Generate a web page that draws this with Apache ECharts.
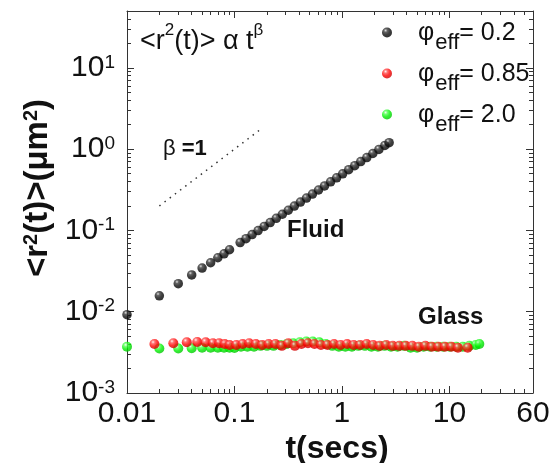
<!DOCTYPE html>
<html>
<head>
<meta charset="utf-8">
<script src="https://cdn.jsdelivr.net/npm/echarts@6/dist/echarts.min.js"></script>
<style>
html,body{margin:0;padding:0;background:#fff;}
#chart{width:554px;height:463px;}
</style>
</head>
<body>
<div id="chart"></div>
<script>
// ---- data ----
const blackT = [0.01,0.02,0.03,0.04,0.05,0.06,0.07,0.08,0.09,0.113,0.128,0.146,0.166,0.189,0.215,0.245,0.279,0.317,0.361,0.411,0.468,0.532,0.606,0.689,0.785,0.893,1.016,1.157,1.316,1.498,1.705,1.94,2.21,2.51,2.75];
const blackMSD = [0.0092,0.0157,0.0221,0.0283,0.0344,0.040,0.0461,0.0516,0.0578,0.0708,0.079,0.089,0.0995,0.112,0.125,0.141,0.158,0.177,0.199,0.223,0.250,0.280,0.314,0.352,0.396,0.444,0.497,0.558,0.626,0.702,0.788,0.883,0.991,1.11,1.20];

const redT = [0.018,0.027,0.036,0.045,0.054,0.063,0.072,0.081,0.09,0.104,0.119,0.137,0.158,0.181,0.208,0.24,0.276,0.317,0.365,0.42,0.483,0.555,0.638,0.734,0.844,0.971,1.117,1.284,1.477,1.698,1.953,2.246,2.583,2.97,3.416,3.928,4.518,5.195,5.975,6.871,7.9,9.09,10.45,12.02,14.8];
const redMSD = [0.0040,0.0041,0.0042,0.00425,0.0042,0.0041,0.0041,0.0040,0.0039,0.0039,0.0040,0.0041,0.0040,0.0039,0.0040,0.0040,0.0038,0.0041,0.0038,0.0040,0.0041,0.0040,0.0039,0.0039,0.0040,0.0039,0.0040,0.0039,0.0039,0.0040,0.0039,0.0038,0.0039,0.0038,0.0038,0.0038,0.0038,0.0037,0.0038,0.0037,0.0037,0.0037,0.0037,0.0036,0.0036];

const greenT = [0.01,0.02,0.03,0.04,0.05,0.06,0.07,0.08,0.09,0.1,0.115,0.132,0.152,0.175,0.201,0.231,0.266,0.306,0.352,0.405,0.465,0.535,0.615,0.708,0.814,0.936,1.076,1.238,1.423,1.637,1.882,2.165,2.49,2.863,3.293,3.786,4.354,5.007,5.758,6.622,7.616,8.758,10.07,11.58,13.32,15.32,17.6,19.0];
const greenMSD = [0.0037,0.00352,0.00352,0.00355,0.0036,0.0036,0.0036,0.0036,0.0036,0.00358,0.0037,0.0037,0.0037,0.0038,0.0038,0.0038,0.0039,0.0040,0.0041,0.0042,0.0043,0.0043,0.0042,0.0040,0.0038,0.0037,0.0037,0.0037,0.0038,0.0038,0.0037,0.0037,0.0038,0.0037,0.0037,0.0038,0.0036,0.0036,0.0037,0.0037,0.0037,0.0037,0.0037,0.0037,0.0037,0.0038,0.0039,0.0040];

const betaT = [0.02, 0.18];
const betaMSD = [0.2, 1.8];

const phiLabels = ['0.2', '0.85', '2.0'];
const xMajor = [0.01, 0.1, 1, 10];
const xLabelValues = [0.01, 0.1, 1, 10, 60];
const xMinor = [0.02,0.03,0.04,0.05,0.06,0.07,0.08,0.09,0.2,0.3,0.4,0.5,0.6,0.7,0.8,0.9,2,3,4,5,6,7,8,9,20,30,40,50];
const yMajor = [0.001, 0.01, 0.1, 1, 10];
const yExponents = ['-3', '-2', '-1', '0', '1'];
const yMinor = [0.002,0.003,0.004,0.005,0.006,0.007,0.008,0.009,0.02,0.03,0.04,0.05,0.06,0.07,0.08,0.09,0.2,0.3,0.4,0.5,0.6,0.7,0.8,0.9,2,3,4,5,6,7,8,9,20,30,40];

// ---- chart ----
const FONT = 'Liberation Sans, Arial, sans-serif';
const INK = '#111';
const FRAME = '#333';

function zip(a, b) { return a.map((v, i) => [v, b[i]]); }
function sphere(c0, c1, c2, c3) {
  return { type: 'radial', x: 0.36, y: 0.3, r: 0.72,
    colorStops: [{ offset: 0, color: c0 }, { offset: 0.25, color: c1 }, { offset: 0.6, color: c2 }, { offset: 1, color: c3 }] };
}

function xAx(pos, ticks, len, lineShow, labels) {
  return {
    type: 'log', logBase: 10, min: 0.01, max: 60, position: pos,
    axisLine: { show: lineShow, onZero: false, lineStyle: { color: FRAME, width: 1 } },
    axisTick: { show: true, inside: true, length: len, customValues: ticks, lineStyle: { color: FRAME, width: 1 } },
    axisLabel: labels ? {
      show: true, customValues: xLabelValues, margin: 6,
      fontFamily: FONT, fontSize: 30, color: INK, lineHeight: 30,
      formatter: v => String(+v.toPrecision(6))
    } : { show: false },
    splitLine: { show: false }, minorTick: { show: false }, minorSplitLine: { show: false }
  };
}
function yAx(pos, ticks, len, lineShow, labels) {
  return {
    type: 'log', logBase: 10, min: 0.001, max: 50, position: pos,
    axisLine: { show: lineShow, onZero: false, lineStyle: { color: FRAME, width: 1 } },
    axisTick: { show: true, inside: true, length: len, customValues: ticks, lineStyle: { color: FRAME, width: 1 } },
    axisLabel: labels ? {
      show: true, customValues: yMajor, margin: 12,
      formatter: v => {
        const i = yMajor.findIndex(m => Math.abs(Math.log10(m) - Math.log10(v)) < 1e-6);
        return '{b|10}{s|' + yExponents[i] + '}';
      },
      rich: {
        b: { fontFamily: FONT, fontSize: 30, lineHeight: 30, color: INK },
        s: { fontFamily: FONT, fontSize: 19, lineHeight: 19, color: INK, verticalAlign: 'top' }
      }
    } : { show: false },
    splitLine: { show: false }, minorTick: { show: false }, minorSplitLine: { show: false }
  };
}

const xAxes = [
  xAx('bottom', xMajor, 7, true, true),
  xAx('bottom', xMinor, 4, false, false),
  xAx('top', xMajor, 7, true, false),
  xAx('top', xMinor, 4, false, false)
];
Object.assign(xAxes[0], {
  name: 't(secs)', nameLocation: 'middle', nameGap: 40, nameMoveOverlap: false,
  nameTextStyle: { fontFamily: FONT, fontSize: 32, fontWeight: 'bold', color: INK, padding: [0, 0, 0, 14] }
});
const yAxes = [
  yAx('left', yMajor, 7, true, true),
  yAx('left', yMinor, 4, false, false),
  yAx('right', yMajor, 7, true, false),
  yAx('right', yMinor, 4, false, false)
];
Object.assign(yAxes[0], {
  name: '{a|<r}{s|2}{a|(t)>(μm}{s|2}{a|)}', nameLocation: 'middle', nameGap: 73, nameMoveOverlap: false,
  nameTextStyle: {
    padding: [0, 0, 0, 28],
    rich: {
      a: { fontFamily: FONT, fontSize: 33, fontWeight: 'bold', lineHeight: 33, color: INK },
      s: { fontFamily: FONT, fontSize: 20, fontWeight: 'bold', lineHeight: 20, color: INK, verticalAlign: 'top' }
    }
  }
});

const legendNames = phiLabels.map(p => 'phi_' + p);

const option = {
  animation: false,
  backgroundColor: '#fff',
  grid: { left: 127, right: 21, top: 11, bottom: 70, containLabel: false, outerBoundsMode: 'none' },
  xAxis: xAxes,
  yAxis: yAxes,
  legend: {
    orient: 'vertical', left: 382, top: 20, padding: 0, itemGap: 7,
    itemWidth: 10, itemHeight: 10, selectedMode: false,
    data: legendNames,
    formatter: name => {
      const p = name.slice(4);
      return '{f|φ}{s|eff}{a|= ' + p + '}';
    },
    textStyle: {
      rich: {
        f: { fontFamily: FONT, fontSize: 25, lineHeight: 25, color: INK, verticalAlign: 'top', padding: [1, 1, 0, 21] },
        a: { fontFamily: FONT, fontSize: 25, lineHeight: 25, color: INK, verticalAlign: 'top', padding: [1, 0, 0, 0] },
        s: { fontFamily: FONT, fontSize: 22, lineHeight: 22, color: INK, verticalAlign: 'top', padding: [12, 0, 0, 0] }
      }
    }
  },
  graphic: [
    { type: 'text', left: 140, top: 22, style: {
      text: '{a|<r}{s|2}{a|(t)> α t}{s|β}', fill: INK,
      rich: {
        a: { fontFamily: FONT, fontSize: 27, lineHeight: 27, fill: INK, verticalAlign: 'top', padding: [6, 0, 0, 0] },
        s: { fontFamily: FONT, fontSize: 17, lineHeight: 17, fill: INK, verticalAlign: 'top' }
      } } },
    { type: 'text', left: 163, top: 138, style: {
      text: '{a|β }{b|=1}', fill: INK,
      rich: {
        a: { fontFamily: FONT, fontSize: 22, fill: INK },
        b: { fontFamily: FONT, fontSize: 22, fontWeight: 'bold', fill: INK }
      } } },
    { type: 'text', left: 287, top: 218, style: { text: 'Fluid', fontFamily: FONT, fontSize: 24, fontWeight: 'bold', fill: INK } },
    { type: 'text', left: 418, top: 305, style: { text: 'Glass', fontFamily: FONT, fontSize: 24, fontWeight: 'bold', fill: INK } }
  ],
  series: [
    { name: legendNames[2], type: 'scatter', z: 2, xAxisIndex: 0, yAxisIndex: 0, symbol: 'circle', symbolSize: 10,
      itemStyle: { color: sphere('#eaffea', '#50ff50', '#00f000', '#00c400') }, data: zip(greenT, greenMSD) },
    { name: legendNames[1], type: 'scatter', z: 3, xAxisIndex: 0, yAxisIndex: 0, symbol: 'circle', symbolSize: 10,
      itemStyle: { color: sphere('#fff0f0', '#ff5050', '#ff0000', '#cc0000') }, data: zip(redT, redMSD) },
    { name: legendNames[0], type: 'scatter', z: 4, xAxisIndex: 0, yAxisIndex: 0, symbol: 'circle', symbolSize: 9.5,
      itemStyle: { color: sphere('#d8d8d8', '#3c3c3c', '#0e0e0e', '#000000') }, data: zip(blackT, blackMSD) },
    { name: 'beta', type: 'line', z: 1, xAxisIndex: 0, yAxisIndex: 0, symbol: 'none', silent: true,
      lineStyle: { color: '#333', width: 1.5, type: [1.5, 5] }, data: zip(betaT, betaMSD) }
  ]
};

const chart = echarts.init(document.getElementById('chart'), null, { renderer: 'canvas' });
chart.setOption(option);
</script>
</body>
</html>
